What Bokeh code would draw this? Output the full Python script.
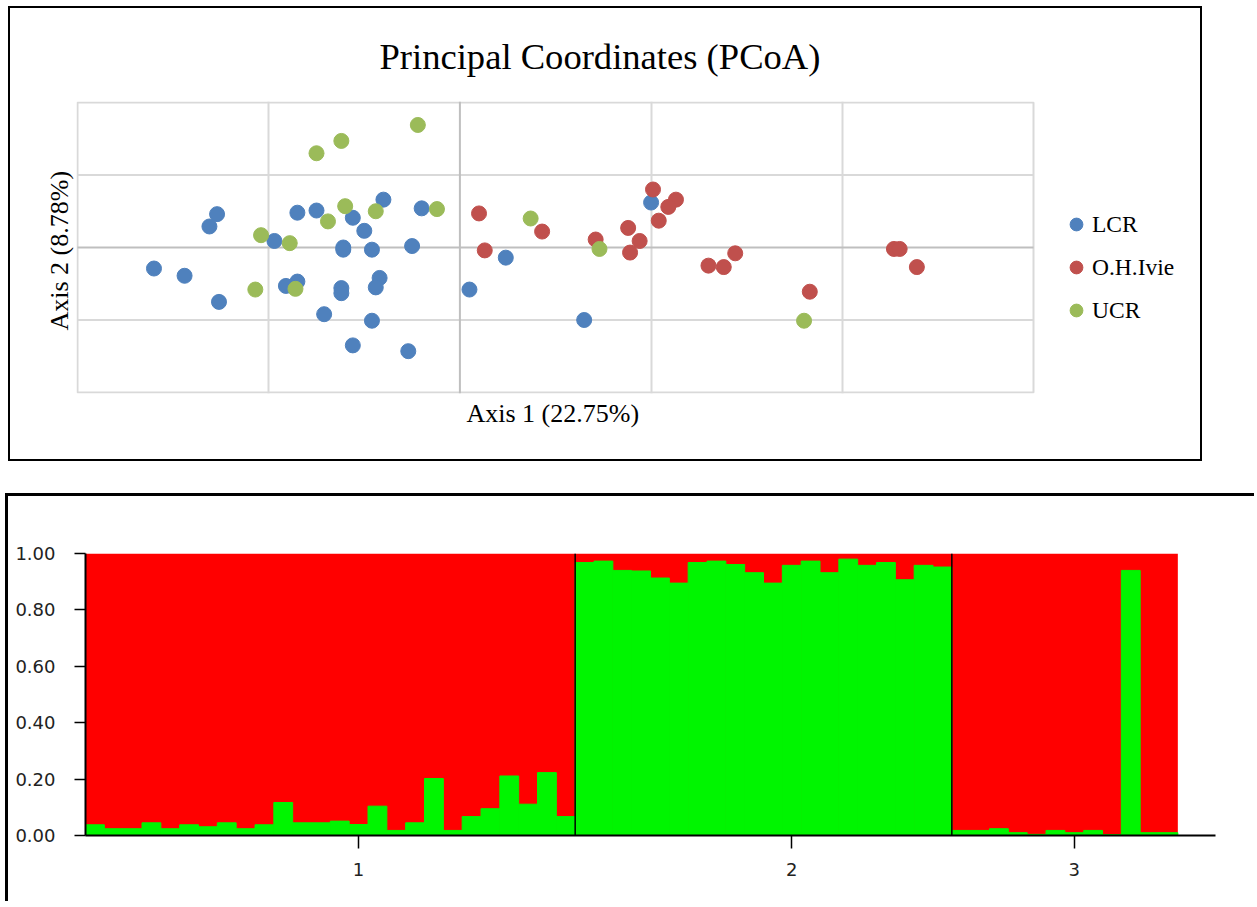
from bokeh.plotting import figure
from bokeh.models import Range1d, FixedTicker, Span, Legend, LegendItem, NumeralTickFormatter, Title
from bokeh.embed import file_html
from bokeh.resources import INLINE

# ---------------- PCoA data ----------------
lcr_x = [-0.40, -0.85, -0.75, -0.56, -0.50, -0.20, -1.27, -1.31, -0.97, -0.61,
         -0.61, -0.46, -0.25, -1.60, -1.44, -1.26, -0.91, -0.85, -0.62, -0.62,
         -0.42, -0.44, -0.71, -0.46, -0.56, -0.27, 0.24, 0.05, 0.65, 1.00]
lcr_y = [0.66, 0.48, 0.51, 0.41, 0.23, 0.54, 0.46, 0.29, 0.09, 0.00,
         -0.03, -0.03, 0.02, -0.29, -0.39, -0.75, -0.53, -0.47, -0.56, -0.63,
         -0.42, -0.55, -0.92, -1.01, -1.35, -1.43, -0.14, -0.58, -1.00, 0.62]

ohi_x = [0.10, 0.13, 0.43, 0.71, 0.88, 0.94, 0.89, 1.01, 1.13, 1.09,
         1.04, 1.30, 1.38, 1.44, 1.83, 2.27, 2.30, 2.39]
ohi_y = [0.47, -0.04, 0.22, 0.11, 0.27, 0.09, -0.07, 0.80, 0.66, 0.56,
         0.37, -0.25, -0.27, -0.08, -0.61, -0.02, -0.02, -0.27]

ucr_x = [-0.22, -0.62, -0.75, -0.60, -0.44, -0.69, -0.12, -1.04, -0.89, -1.07,
         -0.86, 0.37, 0.73, 1.80]
ucr_y = [1.69, 1.47, 1.30, 0.57, 0.50, 0.36, 0.53, 0.17, 0.06, -0.58,
         -0.57, 0.40, -0.02, -1.01]

series_names = ["LCR", "O.H.Ivie", "UCR"]
series_colors = ["#4F81BD", "#C0504D", "#9BBB59"]

# plot-area bounds and gridlines of the scatter (axis units)
plot_x = (-2, 3)
plot_y = (-2, 2)
x_grid = [-1, 1, 2]
y_grid = [-1, 1]

# ---------------- STRUCTURE data (green = cluster share, red = rest) ----------------
group_labels = ["1", "2", "3"]
group1_green = [0.038, 0.024, 0.024, 0.045, 0.024, 0.038, 0.031, 0.045, 0.024, 0.038,
                0.117, 0.045, 0.045, 0.051, 0.039, 0.104, 0.018, 0.045, 0.202, 0.018,
                0.067, 0.095, 0.211, 0.111, 0.223, 0.067]
group2_green = [0.968, 0.973, 0.940, 0.938, 0.913, 0.895, 0.968, 0.973, 0.961, 0.932,
                0.895, 0.958, 0.973, 0.932, 0.980, 0.958, 0.968, 0.907, 0.958, 0.952]
group3_green = [0.018, 0.018, 0.024, 0.010, 0.004, 0.018, 0.010, 0.018, 0.003, 0.940,
                0.010, 0.010]
group_tick_pos = [14.5, 37.5, 52.5]
y_ticks = [0.0, 0.2, 0.4, 0.6, 0.8, 1.0]

SERIF = "Liberation Serif"
GRID = "#D9D9D9"
ZERO = "#BFBFBF"

# ================= Top: PCoA scatter =================
# frame spans the plot area plus the legend column (legend must sit inside the frame)
PX_X = 191.2      # pixels per x unit
PX_Y = 72.5       # pixels per y unit
FRAME_W = 1114
FRAME_H = 292
x0 = plot_x[0] - 1.0 / PX_X
y0 = plot_y[0] - 1.0 / PX_Y
p1 = figure(width=1190, height=451, output_backend="svg", toolbar_location=None,
            x_range=Range1d(x0, x0 + FRAME_W / PX_X),
            y_range=Range1d(y0, y0 + FRAME_H / PX_Y),
            min_border_left=66, min_border_right=10, min_border_top=93, min_border_bottom=66)
p1.margin = (8, 0, 0, 10)
p1.styles = {"outline": "2px solid #000000"}
p1.background_fill_color = "white"
p1.border_fill_color = "white"
p1.outline_line_color = None

p1.title.text = "Principal Coordinates (PCoA)"
p1.title.align = "left"
p1.title.offset = 303
p1.title.standoff = 50
p1.title.text_font = SERIF
p1.title.text_font_size = "36.6px"
p1.title.text_font_style = "normal"
p1.title.text_color = "black"

p1.xaxis.visible = False
ax = p1.yaxis
ax.ticker = FixedTicker(ticks=[])
ax.major_tick_out = 0
ax.major_tick_in = 0
ax.minor_tick_out = 0
ax.minor_tick_in = 0
ax.axis_line_color = None
ax.major_label_text_font_size = "0px"
ax.major_label_standoff = 0
ax.axis_label = "Axis  2 (8.78%)"
ax.axis_label_text_font = SERIF
ax.axis_label_text_font_size = "26px"
ax.axis_label_text_font_style = "normal"
ax.axis_label_text_color = "black"
ax.axis_label_standoff = 3

xlab = Title(text="Axis 1 (22.75%)", align="left", offset=390, vertical_align="top", standoff=10,
             text_font=SERIF, text_font_size="26px", text_font_style="normal", text_color="black")
p1.add_layout(xlab, "below")

# gridlines and plot-area box
p1.xgrid.ticker = FixedTicker(ticks=x_grid)
p1.xgrid.grid_line_color = GRID
p1.xgrid.grid_line_width = 2
p1.ygrid.visible = False
p1.segment(x0=[plot_x[0]] * len(y_grid), y0=y_grid, x1=[plot_x[1]] * len(y_grid), y1=y_grid,
           line_color=GRID, line_width=2)
p1.quad(left=[plot_x[0]], right=[plot_x[1]], bottom=[plot_y[0]], top=[plot_y[1]],
        fill_color=None, line_color=GRID, line_width=2)
p1.add_layout(Span(location=0, dimension="height", line_color=ZERO, line_width=2))
p1.segment(x0=[plot_x[0]], y0=[0], x1=[plot_x[1]], y1=[0], line_color=ZERO, line_width=2)

renderers = []
for xs, ys, col in ((lcr_x, lcr_y, series_colors[0]),
                    (ohi_x, ohi_y, series_colors[1]),
                    (ucr_x, ucr_y, series_colors[2])):
    renderers.append(p1.scatter(xs, ys, size=15, fill_color=col, line_color=col))

legend = Legend(items=[LegendItem(label=n, renderers=[r]) for n, r in zip(series_names, renderers)],
                location=(984, 64), orientation="vertical",
                glyph_width=32, glyph_height=38, label_height=38, spacing=5,
                label_standoff=0, padding=0, margin=0,
                border_line_color=None, background_fill_alpha=0,
                label_text_font=SERIF, label_text_font_size="23.5px", label_text_color="black")
p1.add_layout(legend)

# ================= Bottom: STRUCTURE bar plot =================
green_vals = group1_green + group2_green + group3_green
n_bars = len(green_vals)
bar_x = [i + 0.5 for i in range(n_bars)]

p2 = figure(width=1249, height=408, output_backend="svg", toolbar_location=None,
            x_range=Range1d(0, 60), y_range=Range1d(0, 1),
            min_border_left=77, min_border_right=42, min_border_top=57, min_border_bottom=69)
p2.margin = (37, 0, 0, 8)
p2.styles = {"box-shadow": "-3px -3px 0 0 #000000"}
p2.outline_line_color = None
p2.grid.visible = False

GREEN = "#00F500"
RED = "#FF0000"
# red share fills every column (red = 1 - green), green share drawn on top
p2.quad(left=[0], right=[n_bars], bottom=[0], top=[1], fill_color=RED, line_color=None)
p2.vbar(x=bar_x, width=1, bottom=0, top=green_vals, fill_color=GREEN, line_color=GREEN, line_width=1)

b1 = len(group1_green)
b2 = b1 + len(group2_green)
for loc in (b1, b2):
    p2.add_layout(Span(location=loc, dimension="height", line_color="black", line_width=1.5))

p2.xaxis.ticker = FixedTicker(ticks=group_tick_pos)
p2.xaxis.major_label_overrides = {t: l for t, l in zip(group_tick_pos, group_labels)}
p2.xaxis.major_tick_out = 13
p2.xaxis.major_tick_in = 0
p2.xaxis.major_label_standoff = 14
p2.yaxis.ticker = FixedTicker(ticks=y_ticks)
p2.yaxis.formatter = NumeralTickFormatter(format="0.00")
p2.yaxis.major_tick_out = 11
p2.yaxis.major_tick_in = 0
p2.yaxis.major_label_standoff = 19
for ax in (p2.xaxis, p2.yaxis):
    ax.minor_tick_out = 0
    ax.minor_tick_in = 0
    ax.axis_line_color = "black"
    ax.axis_line_width = 2
    ax.major_tick_line_color = "black"
    ax.major_tick_line_width = 1.5
    ax.major_label_text_font = "DejaVu Sans"
    ax.major_label_text_font_size = "18px"
    ax.major_label_text_color = "#222222"

open("out.html", "w").write(file_html([p1, p2], INLINE))
